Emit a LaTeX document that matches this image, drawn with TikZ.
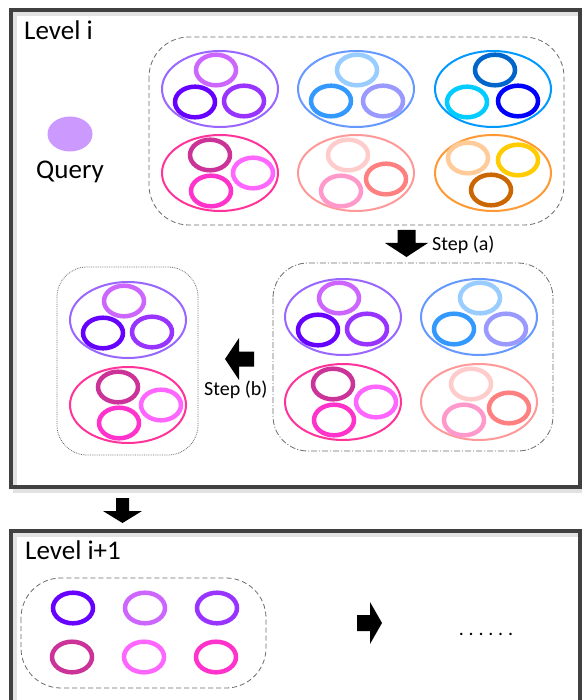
\documentclass[tikz,border=0pt]{standalone}
\usepackage{fontspec}
\setmainfont{Carlito}
\usetikzlibrary{positioning,shapes.geometric}

\definecolor{frm}{HTML}{404040}
\definecolor{frmsh}{HTML}{E2E2E2}
\definecolor{qry}{HTML}{CC99FF}
% shell colour, then its three rings
\definecolor{vio}{HTML}{9966FF}\definecolor{vio1}{HTML}{CC66FF}\definecolor{vio2}{HTML}{6600FF}\definecolor{vio3}{HTML}{9933FF}
\definecolor{blu}{HTML}{6699FF}\definecolor{blu1}{HTML}{99CCFF}\definecolor{blu2}{HTML}{3399FF}\definecolor{blu3}{HTML}{9999FF}
\definecolor{cya}{HTML}{0099FF}\definecolor{cya1}{HTML}{0066CC}\definecolor{cya2}{HTML}{00CCFF}\definecolor{cya3}{HTML}{0000FF}
\definecolor{pnk}{HTML}{FF3399}\definecolor{pnk1}{HTML}{CC3399}\definecolor{pnk2}{HTML}{FF66FF}\definecolor{pnk3}{HTML}{FF33CC}
\definecolor{sal}{HTML}{FF9999}\definecolor{sal1}{HTML}{FFCCCC}\definecolor{sal2}{HTML}{FF8080}\definecolor{sal3}{HTML}{FF99CC}
\definecolor{org}{HTML}{FF9933}\definecolor{org1}{HTML}{FFCC99}\definecolor{org2}{HTML}{FFCC00}\definecolor{org3}{HTML}{CC6600}

\newcommand{\ring}[2]{\draw[ring=#1] #2 ellipse (20pt and 15.3pt);}

\begin{document}
\begin{tikzpicture}[x=1pt,y=-1pt,
	frame/.style={draw=frm,line width=4pt},
	shadow/.style={draw=frmsh,line width=4pt},
	grp/.style={draw=gray!85!black,line width=0.8pt,rounded corners=#1},
	shell/.style={draw=#1,line width=2pt},
	ring/.style={draw=#1,line width=4.5pt},
	lbl/.style={inner sep=0pt,font=\fontsize{27}{32}\selectfont},
	steplbl/.style={inner sep=0pt,font=\fontsize{20}{24}\selectfont},
	pics/fatarrow/.style n args={4}{code={% length, head, half shaft, half head
		\fill (-#1/2,-#3) -- (#1/2-#2,-#3) -- (#1/2-#2,-#4) -- (#1/2,0)
		-- (#1/2-#2,#4) -- (#1/2-#2,#3) -- (-#1/2,#3) -- cycle;}},
	pics/violet/.style={code={\draw[shell=vio] (0,0) ellipse (58pt and 38pt);
		\ring{vio1}{(-4,-19)} \ring{vio2}{(-25,13)} \ring{vio3}{(24,12)}}},
	pics/blue/.style={code={\draw[shell=blu] (0,0) ellipse (58pt and 38pt);
		\ring{blu1}{(1,-19)} \ring{blu2}{(-25,12)} \ring{blu3}{(27,12)}}},
	pics/cyan/.style={code={\draw[shell=cya] (0,0) ellipse (58pt and 38pt);
		\ring{cya1}{(2,-19)} \ring{cya2}{(-26,13)} \ring{cya3}{(25,12)}}},
	pics/pink/.style={code={\draw[shell=pnk] (0,0) ellipse (58pt and 38pt);
		\ring{pnk1}{(-10,-18)} \ring{pnk2}{(33,0)} \ring{pnk3}{(-9,18)}}},
	pics/salmon/.style={code={\draw[shell=sal] (0,0) ellipse (58pt and 38pt);
		\ring{sal1}{(-8,-18)} \ring{sal2}{(30,6)} \ring{sal3}{(-15,18)}}},
	pics/orange/.style={code={\draw[shell=org] (0,0) ellipse (58pt and 38pt);
		\ring{org1}{(-25,-15)} \ring{org2}{(25,-13)} \ring{org3}{(-2,17)}}},
	]
	\useasboundingbox[fill=white] (0,0) rectangle (581,700);
	% the two level frames
	\draw[shadow] (15,14) rectangle (584,491) (14.5,535) rectangle (584,714);
	\draw[frame] (11,10) rectangle (580,487) (10.5,531) rectangle (580,710);
	\path
	(24,40) node[lbl,anchor=base west] (lvl) {Level i}          % <<< level i
	(25,559) node[lbl,anchor=base west] (lvlnext) {Level i+1}   % <<< level i+1
	(70,134) node[ellipse,fill=qry,minimum width=45pt,minimum height=35pt,inner sep=0pt] (q) {}
	(432,251) node[steplbl,anchor=base west] (sa) {Step (a)}
	(204,395) node[steplbl,anchor=base west] (sb) {Step (b)}
	(486,635) node[steplbl,anchor=base] (more) {\addfontfeature{LetterSpace=24}......}
	;
	\node[lbl,below=9pt of q] (qtxt) {Query};

	% all candidate clusters
	\draw[grp=40pt,dash pattern=on 5pt off 3pt] (149,37) rectangle (564,225);
	\pic at (220,89) {violet}; \pic at (356,89) {blue}; \pic at (493,89) {cyan};
	\pic at (220,173) {pink}; \pic at (356,173) {salmon}; \pic at (493,173) {orange};
	% after step (a)
	\draw[grp=35pt,dash pattern=on 6pt off 2pt on 1pt off 2pt] (273,263) rectangle (553,451);
	\pic at (343,317) {violet}; \pic at (479,317) {blue};
	\pic at (343,402) {pink}; \pic at (479,402) {salmon};
	% after step (b)
	\draw[grp=30pt,densely dotted] (57,267) rectangle (198,455);
	\pic at (128,320) {violet}; \pic at (128,405) {pink};
	% next level
	\draw[grp=40pt,dash pattern=on 5pt off 3pt] (21,578) rectangle (266,688);
	\ring{vio2}{(73,608)} \ring{vio1}{(145,608)} \ring{vio3}{(217,608)}
	\ring{pnk1}{(72,657)} \ring{pnk2}{(144,657)} \ring{pnk3}{(216,657)}

	% block arrows
	\pic[rotate=-90] (arra) at (406.5,243.5) {fatarrow={27}{14}{9}{21.5}};
	\pic[rotate=180] (arrb) at (239.5,359) {fatarrow={29}{14}{7.5}{21}};
	\pic[rotate=-90] (arrc) at (122.5,510.5) {fatarrow={25}{12}{6.5}{19.5}};
	\pic (arrd) at (369.5,623) {fatarrow={25}{12}{8}{21}};
\end{tikzpicture}
\end{document}
